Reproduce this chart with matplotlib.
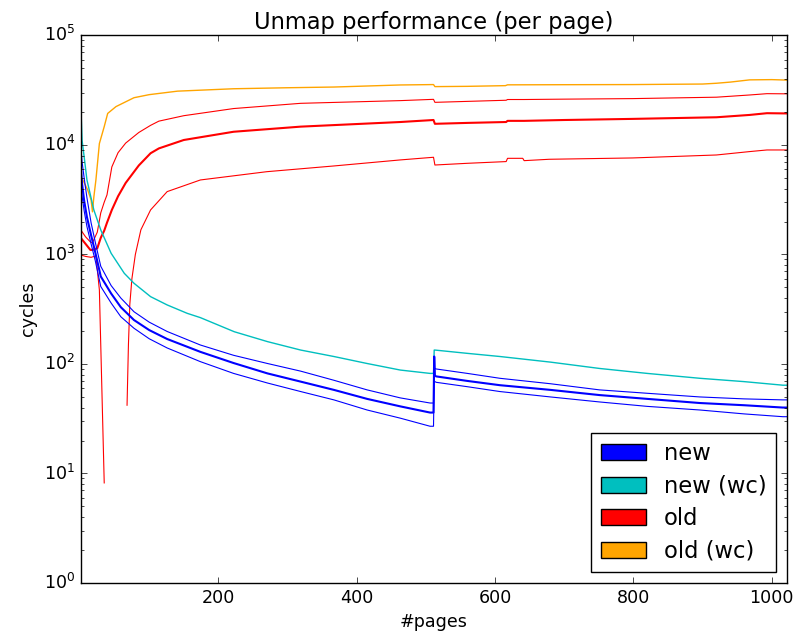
import matplotlib
matplotlib.use('Agg')
import matplotlib.pyplot as plt
import matplotlib.patches as mpatches

nan = float('nan')

# page counts / cycles (log scale)
new_x = [1, 3, 6, 10, 16, 22, 30, 45, 59, 78, 100, 126, 174, 222, 271, 319, 367, 415, 463, 506, 511,
         512, 513, 515, 560, 607, 680, 751, 820, 896, 960, 1016, 1023]
new_hi = [10000, 7000, 5000, 3300, 1950, 1300, 780, 520, 400, 300, 241, 198, 149, 120, 101, 86, 71, 58, 49, 44, 44,
          91, 91, 90, 82, 74, 66, 58, 54, 50, 48, 47, 47]
new_mid = [6500, 4400, 3100, 2200, 1500, 1050, 630, 440, 330, 252, 204, 169, 129, 102, 82, 69, 58, 48, 41, 36, 36,
           117, 78, 77, 70, 64, 58, 52, 48, 44, 42, 40, 40]
new_lo = [4800, 3400, 2500, 1800, 1250, 880, 510, 360, 270, 212, 170, 140, 105, 82, 67, 56, 47, 38, 32, 27, 27,
          69, 69, 68, 62, 56, 50, 45, 41, 38, 35, 33, 33]

newwc_x = [1, 3, 6, 10, 20, 30, 45, 64, 78, 102, 126, 155, 174, 223, 271, 319, 367, 415, 463, 506, 511,
           512, 513, 560, 607, 680, 751, 820, 896, 960, 1016, 1023]
newwc_y = [25000, 11000, 7800, 4800, 2550, 1675, 1025, 673, 546, 412, 346, 290, 265, 197, 160, 134, 117, 101, 88, 82, 82,
           134, 134, 125, 117, 104, 91, 82, 74, 69, 64, 64]

old_x = [1, 8, 15, 18, 25, 30, 35, 39, 46, 55, 66, 85, 102, 114, 150, 222, 319, 463, 511, 513, 560, 616, 618,
         640, 642, 700, 799, 920, 968, 993, 1023]
old_hi = [1680, 1450, 1300, 1280, 1600, 2400, 3000, 3500, 6300, 8500, 10400, 13000, 15100, 16500, 18500, 21500, 24000,
          25400, 26100, 24500, 25000, 25600, 26000, 26000, 26000, 26200, 26500, 27300, 28600, 29400, 29300]
old_mid = [1420, 1250, 1100, 1100, 1140, 1420, 1650, 1950, 2550, 3400, 4500, 6500, 8400, 9300, 11100, 13200, 14700,
           16200, 16900, 15600, 15900, 16200, 16600, 16600, 16600, 16900, 17300, 17900, 18800, 19500, 19400]
old_lo_x = [1, 8, 16, 23, 28, 35, 50, 68, 70, 72, 75, 80, 88, 102, 126, 174, 270, 367, 463, 511, 513, 560, 616, 618,
            640, 642, 678, 799, 920, 968, 993, 1023]
old_lo = [990, 960, 942, 970, 474, 8.2, nan, 42, 150, 350, 600, 1000, 1680, 2550, 3750, 4790, 5700, 6430, 7300, 7720,
          6560, 6800, 7050, 7550, 7550, 7190, 7400, 7610, 8100, 8700, 9000, 9000]

oldwc_x = [1, 4, 11, 16, 18, 20, 23, 28, 35, 40, 52, 78, 100, 141, 222, 300, 367, 463, 511, 513, 560, 615, 618,
           700, 799, 900, 920, 940, 968, 1000, 1023]
oldwc_y = [5000, 4800, 3900, 3150, 2450, 3350, 4800, 10300, 14700, 19400, 22400, 27000, 28800, 31000, 32600, 33300,
           33800, 35300, 35600, 34100, 34300, 34800, 35400, 35500, 35600, 36000, 36600, 37500, 39300, 39500, 39100]

labels = ['new', 'new (wc)', 'old', 'old (wc)']
colors = ['b', 'c', 'r', 'orange']

plt.style.use('classic')
fig = plt.figure(figsize=(7.99, 6.33), dpi=100, facecolor='white')
ax = fig.add_axes([0.101, 0.079, 0.884, 0.865])

ax.plot(oldwc_x, oldwc_y, color=colors[3], lw=1.0)
ax.plot(old_x, old_hi, color=colors[2], lw=0.8)
ax.plot(old_x, old_mid, color=colors[2], lw=1.5)
ax.plot(old_lo_x, old_lo, color=colors[2], lw=0.8)
ax.plot(newwc_x, newwc_y, color=colors[1], lw=1.0)
ax.plot(new_x, new_hi, color=colors[0], lw=0.8)
ax.plot(new_x, new_mid, color=colors[0], lw=1.5)
ax.plot(new_x, new_lo, color=colors[0], lw=0.8)

ax.set_yscale('log')
ax.set_ylim(1, 1e5)
ax.set_xlim(1, 1022)
ax.tick_params(labelsize=12.6)
ax.set_title('Unmap performance (per page)', fontsize=16.3)
ax.set_xlabel('#pages', fontsize=12.6)
ax.set_ylabel('cycles', fontsize=12.6)

handles = [mpatches.Patch(facecolor=c, edgecolor='k') for c in colors]
ax.legend(handles, labels, loc='lower right', fontsize=16.3, labelspacing=0.42)

fig.savefig('out.png', dpi=100, facecolor='white')
